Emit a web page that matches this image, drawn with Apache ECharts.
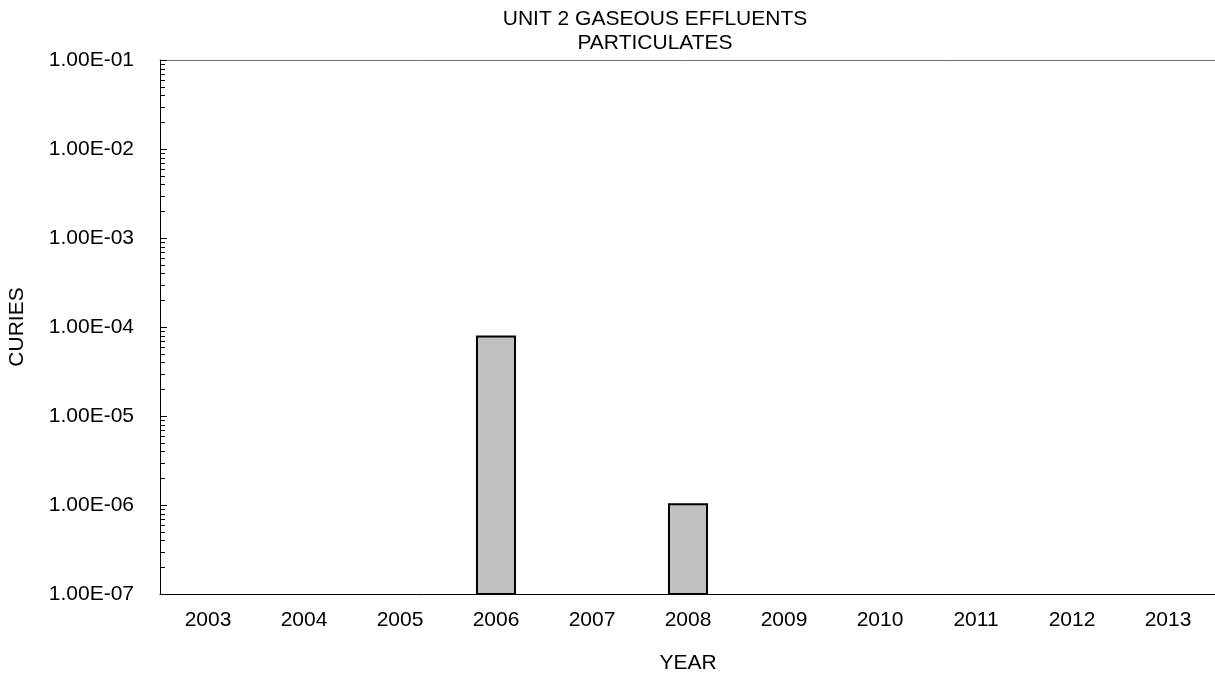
<!DOCTYPE html>
<html>
<head>
<meta charset="utf-8">
<script src="https://cdn.jsdelivr.net/npm/echarts@6/dist/echarts.min.js"></script>
<style>
html,body{margin:0;padding:0;background:#fff;}
#chart{width:1215px;height:675px;}
</style>
</head>
<body>
<div id="chart"></div>
<script>
var years = ['2003','2004','2005','2006','2007','2008','2009','2010','2011','2012','2013'];
var curies = [null, null, null, 7.8e-5, null, 1.02e-6, null, null, null, null, null];
var yMin = 1e-7;
var yMax = 1e-1;
var titleLines = ['UNIT 2 GASEOUS EFFLUENTS', 'PARTICULATES'];

var FONT = '"Liberation Sans", Arial, sans-serif';

var barData = [];
curies.forEach(function (v, i) { if (v != null) barData.push([i, v]); });

// minor tick positions (2..9 within each decade) - axis decoration
var minorTicks = [];
for (var e = Math.round(Math.log10(yMin)); e < Math.round(Math.log10(yMax)); e++) {
  for (var m = 2; m <= 9; m++) minorTicks.push([0, m * Math.pow(10, e)]);
}

function fmt(v) {
  var e = Math.round(Math.log10(v));
  var s = Math.abs(e) < 10 ? '0' + Math.abs(e) : '' + Math.abs(e);
  return '1.00E' + (e < 0 ? '-' : '+') + s;
}

var chart = echarts.init(document.getElementById('chart'), null, {renderer: 'canvas'});
chart.setOption({
  animation: false,
  backgroundColor: '#ffffff',
  title: {
    text: titleLines.join('\n'),
    left: 650,
    top: 2,
    textAlign: 'center',
    textStyle: {fontFamily: FONT, fontSize: 21, fontWeight: 'normal', color: '#000', lineHeight: 24}
  },
  grid: {
    left: 160, top: 60, width: 1056, height: 534,
    show: false,
    containLabel: false,
    outerBoundsMode: 'none'
  },
  xAxis: [{
    type: 'category',
    data: years,
    name: 'YEAR',
    nameLocation: 'middle',
    nameGap: 59,
    nameTextStyle: {fontFamily: FONT, fontSize: 21, color: '#000'},
    axisLine: {show: true, lineStyle: {color: '#000', width: 1}},
    axisTick: {show: false},
    axisLabel: {fontFamily: FONT, fontSize: 21, color: '#000', margin: 16},
    splitLine: {show: false}
  }, {
    type: 'category',
    data: years,
    position: 'top',
    axisLine: {show: true, lineStyle: {color: '#707070', width: 1}},
    axisTick: {show: false},
    axisLabel: {show: false},
    splitLine: {show: false}
  }],
  yAxis: {
    type: 'log',
    logBase: 10,
    min: yMin,
    max: yMax,
    interval: 1,
    name: 'CURIES',
    nameLocation: 'middle',
    nameRotate: 90,
    nameGap: 132,
    nameTextStyle: {fontFamily: FONT, fontSize: 21, color: '#000'},
    axisLine: {show: true, lineStyle: {color: '#000', width: 1}},
    axisTick: {show: true, inside: true, length: 7, lineStyle: {color: '#000', width: 1}},
    axisLabel: {fontFamily: FONT, fontSize: 21, color: '#000', margin: 26, formatter: fmt},
    splitLine: {show: false}
  },
  series: [
    {
      type: 'custom',
      name: 'minorTicks',
      data: minorTicks,
      silent: true,
      z: 5,
      renderItem: function (params, api) {
        var p = api.coord([0, api.value(1)]);
        var x0 = params.coordSys.x;
        return {
          type: 'line',
          shape: {x1: x0, y1: Math.round(p[1]) + 0.5, x2: x0 + 5, y2: Math.round(p[1]) + 0.5},
          style: {stroke: '#000', lineWidth: 1}
        };
      }
    },
    {
      type: 'custom',
      name: 'Particulates',
      data: barData,
      z: 3,
      renderItem: function (params, api) {
        var top = api.coord([api.value(0), api.value(1)]);
        var base = api.coord([api.value(0), yMin]);
        var w = api.size([1, 0])[0] * 0.396;
        return {
          type: 'rect',
          shape: {x: top[0] - w / 2, y: top[1], width: w, height: base[1] - top[1]},
          style: {fill: '#c0c0c0', stroke: '#000', lineWidth: 2}
        };
      }
    }
  ]
});
</script>
</body>
</html>
